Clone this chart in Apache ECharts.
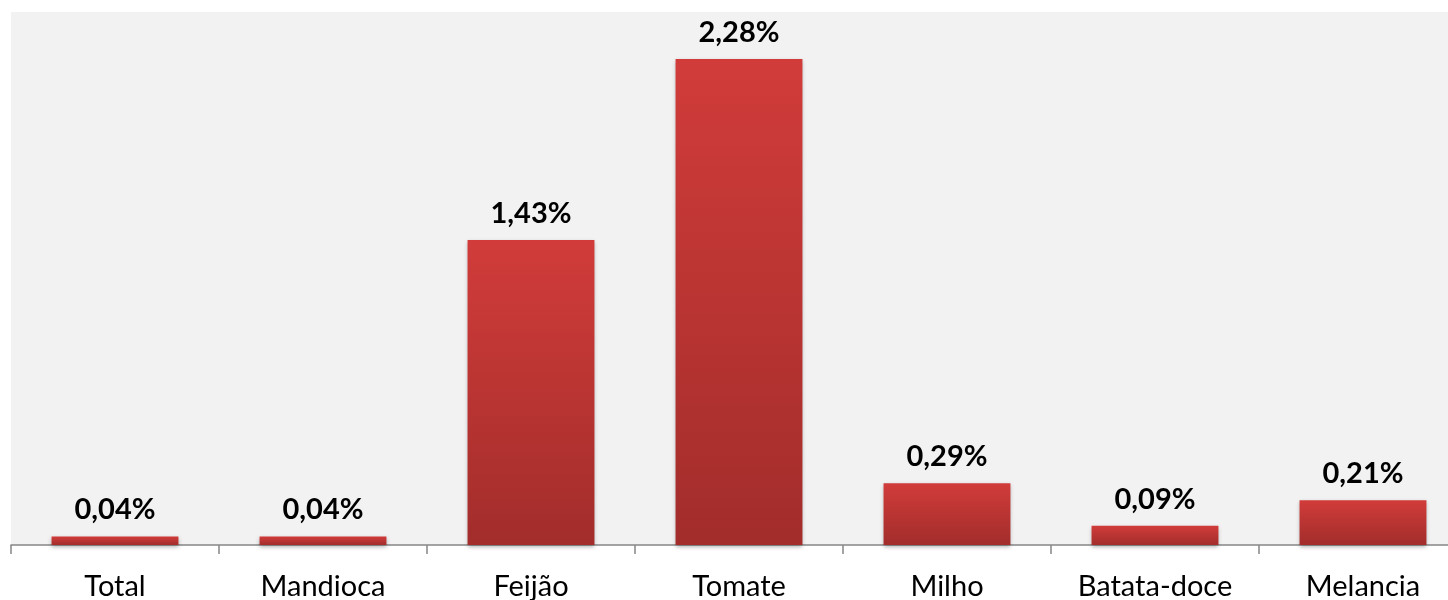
<!DOCTYPE html>
<html><head><meta charset="utf-8">
<script src="https://cdn.jsdelivr.net/npm/echarts@6/dist/echarts.min.js"></script>
<style>html,body{margin:0;padding:0;background:#fff}#c{width:1448px;height:600px}</style>
</head><body><div id="c"></div>
<script>
const categories = ["Total","Mandioca","Feijão","Tomate","Milho","Batata-doce","Melancia"];
const values = [0.04,0.04,1.43,2.28,0.29,0.09,0.21];
const chart = echarts.init(document.getElementById('c'));
chart.setOption({
  animation:false,
  grid:{left:11,top:12,height:533,width:1456,outerBoundsMode:'none',containLabel:false,show:true,backgroundColor:'#f2f2f2',borderWidth:0},
  xAxis:{type:'category',data:categories,
    axisLine:{lineStyle:{color:'#868686',width:1.5}},
    axisTick:{show:true,length:9,lineStyle:{color:'#868686',width:1.5}},
    axisLabel:{fontFamily:'Lato',fontSize:29,color:'#000',margin:27}},
  yAxis:{type:'value',min:0,max:2.5,show:false,splitLine:{show:false}},
  series:[{type:'bar',data:values,barWidth:'61%',
    itemStyle:{color:new echarts.graphic.LinearGradient(0,0,0,1,[{offset:0,color:'#d13c3a'},{offset:1,color:'#a22d2b'}]),
      shadowColor:'rgba(0,0,0,0.3)',shadowBlur:4,shadowOffsetY:2},
    label:{show:true,position:'top',distance:12,fontFamily:'Lato',fontWeight:'bold',fontSize:29,color:'#000',
      formatter:p=>p.value.toFixed(2).replace('.',',')+'%'}}]
});
</script></body></html>
